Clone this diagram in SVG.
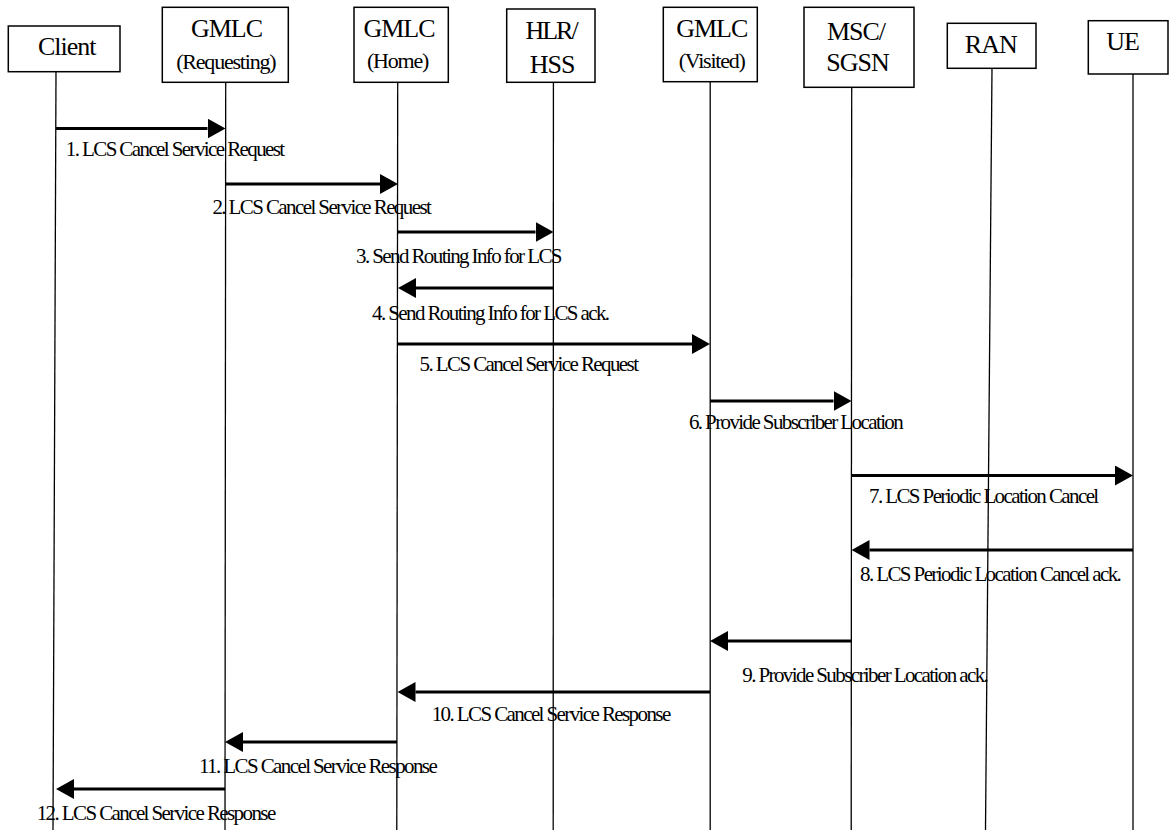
<svg xmlns="http://www.w3.org/2000/svg" width="1169" height="830" viewBox="0 0 1169 830">
  <style>
    .box { fill: #ffffff; stroke: #000000; stroke-width: 1.5; }
    .life { stroke: #000000; stroke-width: 1.3; fill: none; }
    .msg { stroke: #000000; stroke-width: 3; fill: none; marker-end: url(#ah); }
    .hd { font-family: "Liberation Serif", "Times New Roman", serif; font-size: 26px; fill: #000000; text-anchor: middle; letter-spacing: -1px; }
    .hd2 { font-family: "Liberation Serif", "Times New Roman", serif; font-size: 22px; fill: #000000; text-anchor: middle; letter-spacing: -1.2px; }
    .lbl { font-family: "Liberation Serif", "Times New Roman", serif; font-size: 21px; fill: #000000; letter-spacing: -1.6px; }
  </style>
  <defs>
    <marker id="ah" markerUnits="userSpaceOnUse" markerWidth="18" markerHeight="20" refX="0" refY="10" orient="auto" viewBox="0 0 18 20">
      <path d="M0,0 L18,10 L0,20 z" fill="#000000"/>
    </marker>
  </defs>
  <rect width="1169" height="830" fill="#ffffff"/>

  <g id="client">
    <rect class="box" x="8.3" y="26" width="111.7" height="45.7"/>
    <text class="hd" x="66.7" y="55">Client</text>
    <line class="life" x1="56" y1="71.7" x2="53" y2="830"/>
  </g>
  <g id="gmlc-requesting">
    <rect class="box" x="162.3" y="7.3" width="126" height="75"/>
    <text class="hd" x="226.5" y="37.3">GMLC</text>
    <text class="hd2" x="225.8" y="68.5">(Requesting)</text>
    <line class="life" x1="225.7" y1="82.3" x2="225" y2="830"/>
  </g>
  <g id="gmlc-home">
    <rect class="box" x="354" y="7.3" width="94.3" height="75"/>
    <text class="hd" x="399" y="37.3">GMLC</text>
    <text class="hd2" x="397.5" y="68.3">(Home)</text>
    <line class="life" x1="397.7" y1="82.3" x2="396.8" y2="830"/>
  </g>
  <g id="hlr-hss">
    <rect class="box" x="506.7" y="9" width="88.3" height="73.3"/>
    <text class="hd" x="551" y="39.3" style="letter-spacing:-2px">HLR/</text>
    <text class="hd" x="552" y="73.3">HSS</text>
    <line class="life" x1="553.4" y1="82.3" x2="553.2" y2="830"/>
  </g>
  <g id="gmlc-visited">
    <rect class="box" x="663.3" y="7.3" width="94" height="74.4"/>
    <text class="hd" x="711.7" y="36.7">GMLC</text>
    <text class="hd2" x="711.7" y="67.7">(Visited)</text>
    <line class="life" x1="710.2" y1="81.7" x2="710.2" y2="830"/>
  </g>
  <g id="msc-sgsn">
    <rect class="box" x="804" y="7.3" width="110" height="80"/>
    <text class="hd" x="856" y="40">MSC/</text>
    <text class="hd" x="857.5" y="71">SGSN</text>
    <line class="life" x1="851.7" y1="87.3" x2="851.2" y2="830"/>
  </g>
  <g id="ran">
    <rect class="box" x="947.3" y="23.3" width="88.7" height="45"/>
    <text class="hd" x="990.8" y="53.3">RAN</text>
    <line class="life" x1="992" y1="68.3" x2="985.5" y2="830"/>
  </g>
  <g id="ue">
    <rect class="box" x="1088.3" y="20.7" width="79.7" height="53.3"/>
    <text class="hd" x="1122.5" y="50">UE</text>
    <line class="life" x1="1133" y1="74" x2="1133" y2="830"/>
  </g>

  <g id="connectors">
    <line class="msg" x1="56" y1="128.5" x2="207.5" y2="128.5"/>
    <line class="msg" x1="225.5" y1="184" x2="380" y2="184"/>
    <line class="msg" x1="398" y1="232" x2="535.5" y2="232"/>
    <line class="msg" x1="553.5" y1="288" x2="416" y2="288"/>
    <line class="msg" x1="398" y1="344" x2="692" y2="344"/>
    <line class="msg" x1="710" y1="401" x2="833.5" y2="401"/>
    <line class="msg" x1="851.5" y1="475.5" x2="1115" y2="475.5"/>
    <line class="msg" x1="1133" y1="550" x2="869.5" y2="550"/>
    <line class="msg" x1="851.5" y1="641" x2="728" y2="641"/>
    <line class="msg" x1="710" y1="692" x2="415.5" y2="692"/>
    <line class="msg" x1="397" y1="742" x2="243" y2="742"/>
    <line class="msg" x1="225" y1="789" x2="74" y2="789"/>
  </g>

  <g id="labels">
    <text class="lbl" x="65.8" y="156">1. LCS Cancel Service Request</text>
    <text class="lbl" x="212.4" y="214">2. LCS Cancel Service Request</text>
    <text class="lbl" x="356" y="263">3. Send Routing Info for LCS</text>
    <text class="lbl" x="372" y="320">4. Send Routing Info for LCS ack.</text>
    <text class="lbl" x="419.6" y="371">5. LCS Cancel Service Request</text>
    <text class="lbl" x="688.9" y="429">6. Provide Subscriber Location</text>
    <text class="lbl" x="869" y="503">7. LCS Periodic Location Cancel</text>
    <text class="lbl" x="860" y="581">8. LCS Periodic Location Cancel ack.</text>
    <text class="lbl" x="742.3" y="682">9. Provide Subscriber Location ack.</text>
    <text class="lbl" x="431.7" y="721">10. LCS Cancel Service Response</text>
    <text class="lbl" x="199" y="773">11. LCS Cancel Service Response</text>
    <text class="lbl" x="36.7" y="820">12. LCS Cancel Service Response</text>
  </g>
</svg>
